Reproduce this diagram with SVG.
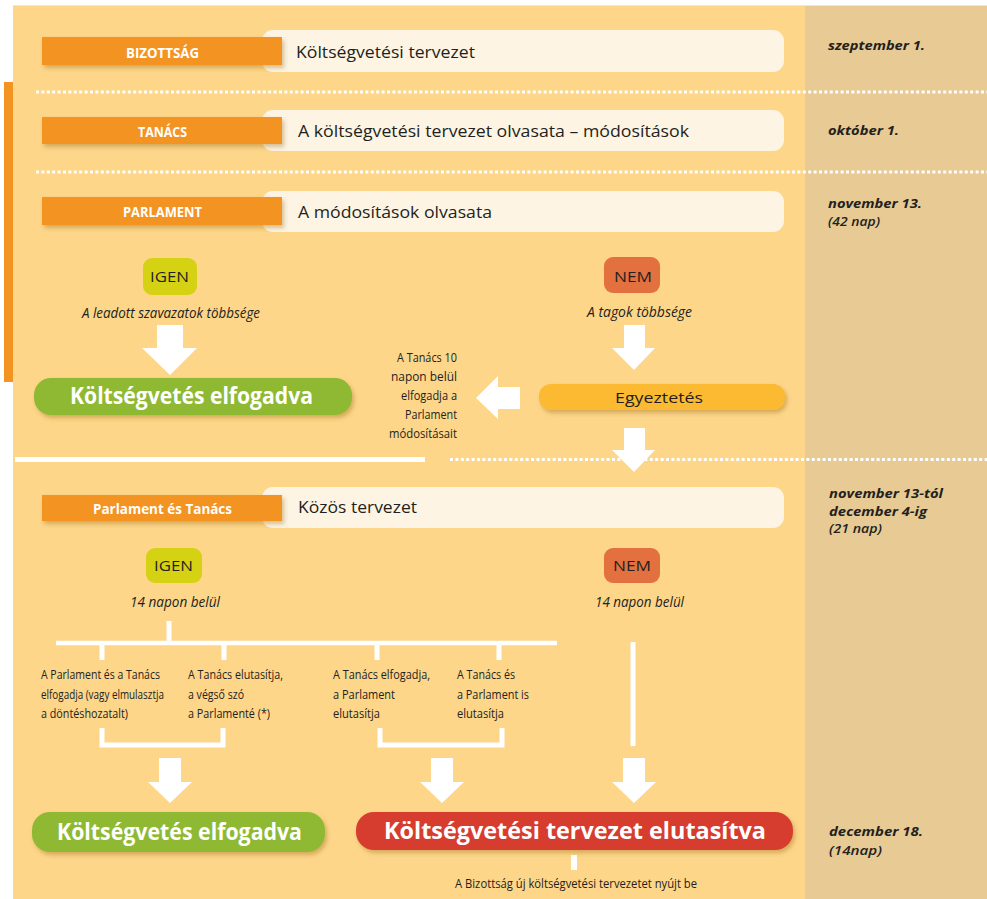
<svg xmlns="http://www.w3.org/2000/svg" width="987" height="899" viewBox="0 0 987 899">
<defs>
<style>
.lbl{font-family:"Open Sans","Noto Sans",sans-serif;font-weight:700;font-size:15px;fill:#fff}
.row{font-family:"Open Sans","Noto Sans",sans-serif;font-size:16.5px;fill:#231f20}
.date{font-family:"Open Sans","Noto Sans",sans-serif;font-weight:700;font-style:italic;font-size:12px;fill:#231f20}
.dn{font-family:"Open Sans","Noto Sans",sans-serif;font-weight:600;font-style:italic;font-size:12px;fill:#231f20}
.yn{font-family:"Open Sans","Noto Sans",sans-serif;font-size:15px;fill:#231f20}
.sub{font-family:"Open Sans","Noto Sans",sans-serif;font-style:italic;font-size:14px;fill:#231f20}
.big{font-family:"Open Sans","Noto Sans",sans-serif;font-weight:700;font-size:23px;fill:#fff}
.sm{font-family:"Open Sans","Noto Sans",sans-serif;font-size:13px;fill:#231f20}
.lab{fill:#f39321}
.cream{fill:#fdf4e3}
.dot{stroke:#fff;stroke-width:3;stroke-dasharray:3 2.4;fill:none}
.wl{stroke:#fff;fill:none}
.arr{fill:#fff}
</style>
<filter id="sh" x="-10%" y="-40%" width="125%" height="200%">
<feDropShadow dx="2" dy="3" stdDeviation="2" flood-color="#8a5a10" flood-opacity="0.35"/>
</filter>
</defs>
<rect x="0" y="0" width="987" height="899" fill="#ffffff"/>
<rect x="13" y="5" width="974" height="1" fill="#e6e6e6"/>
<rect x="13" y="6" width="792" height="893" fill="#fdd68a"/>
<rect x="805" y="6" width="182" height="893" fill="#e7ca94"/>
<rect x="4" y="82" width="9" height="300" fill="#f39321"/>

<g id="connectors">
<line class="dot" x1="36" y1="92" x2="987" y2="92"/>
<line class="dot" x1="36" y1="172" x2="987" y2="172"/>
<line class="wl" x1="15" y1="459.5" x2="425" y2="459.5" stroke-width="5"/>
<line class="dot" x1="450" y1="459.5" x2="987" y2="459.5"/>
<polygon class="arr" points="157,325 183,325 183,348 197,348 170,375 142,348 157,348"/>
<polygon class="arr" points="624,325 645,325 645,348 655,348 634,370 612,348 624,348"/>
<polygon class="arr" points="520,387 520,409 498,409 498,419 476,398 498,376 498,387"/>
<polygon class="arr" points="624,428 645,428 645,450 655,450 634,472 612,450 624,450"/>
<line class="wl" x1="169" y1="621" x2="169" y2="643" stroke-width="5"/>
<line class="wl" x1="56" y1="643" x2="557" y2="643" stroke-width="4.5"/>
<line class="wl" x1="102" y1="643" x2="102" y2="660" stroke-width="5"/>
<line class="wl" x1="224" y1="643" x2="224" y2="660" stroke-width="5"/>
<line class="wl" x1="377" y1="643" x2="377" y2="660" stroke-width="5"/>
<line class="wl" x1="499" y1="643" x2="499" y2="660" stroke-width="5"/>
<polyline class="wl" points="102,728 102,745 223,745 223,728" stroke-width="5"/>
<polyline class="wl" points="380,728 380,745 502,745 502,728" stroke-width="5"/>
<line class="wl" x1="633" y1="642" x2="633" y2="746" stroke-width="5"/>
<polygon class="arr" points="159,758 181,758 181,782 192,782 170,803 148,782 159,782"/>
<polygon class="arr" points="431,758 453,758 453,782 464,782 442,803 420,782 431,782"/>
<polygon class="arr" points="623,758 645,758 645,782 656,782 634,803 612,782 623,782"/>
<line class="wl" x1="574" y1="855" x2="574" y2="870" stroke-width="6"/>
</g>

<g id="row-bizottsag">
<rect class="cream" x="262" y="30" width="522" height="42" rx="11"/>
<rect class="lab" x="42" y="37" width="240" height="28" filter="url(#sh)"/>
<text class="lbl" x="126" y="58" textLength="73" lengthAdjust="spacingAndGlyphs">BIZOTTSÁG</text>
<text class="row" x="296" y="58" textLength="179" lengthAdjust="spacingAndGlyphs">Költségvetési tervezet</text>
</g>
<g id="row-tanacs">
<rect class="cream" x="262" y="110" width="522" height="41" rx="11"/>
<rect class="lab" x="42" y="117" width="240" height="27" filter="url(#sh)"/>
<text class="lbl" x="138" y="137" textLength="49" lengthAdjust="spacingAndGlyphs">TANÁCS</text>
<text class="row" x="298" y="137" textLength="391" lengthAdjust="spacingAndGlyphs">A költségvetési tervezet olvasata – módosítások</text>
</g>
<g id="row-parlament">
<rect class="cream" x="262" y="191" width="522" height="41" rx="11"/>
<rect class="lab" x="42" y="197" width="240" height="28" filter="url(#sh)"/>
<text class="lbl" x="123" y="217" textLength="79" lengthAdjust="spacingAndGlyphs">PARLAMENT</text>
<text class="row" x="298" y="218" textLength="194" lengthAdjust="spacingAndGlyphs">A módosítások olvasata</text>
</g>
<g id="row-kozos">
<rect class="cream" x="262" y="487" width="522" height="41" rx="11"/>
<rect class="lab" x="42" y="495" width="240" height="26" filter="url(#sh)"/>
<text class="lbl" x="93" y="514" textLength="139" lengthAdjust="spacingAndGlyphs">Parlament és Tanács</text>
<text class="row" x="298" y="513" textLength="119" lengthAdjust="spacingAndGlyphs">Közös tervezet</text>
</g>

<g id="dates">
<text class="date" x="828" y="50" textLength="97" lengthAdjust="spacingAndGlyphs">szeptember 1.</text>
<text class="date" x="828" y="135" textLength="71" lengthAdjust="spacingAndGlyphs">október 1.</text>
<text class="date" x="828" y="208" textLength="94" lengthAdjust="spacingAndGlyphs">november 13.</text>
<text class="dn" x="828" y="226" textLength="52" lengthAdjust="spacingAndGlyphs">(42 nap)</text>
<text class="date" x="829" y="498" textLength="114" lengthAdjust="spacingAndGlyphs">november 13-tól</text>
<text class="date" x="829" y="516" textLength="98" lengthAdjust="spacingAndGlyphs">december 4-ig</text>
<text class="dn" x="829" y="533" textLength="53" lengthAdjust="spacingAndGlyphs">(21 nap)</text>
<text class="date" x="829" y="836" textLength="94" lengthAdjust="spacingAndGlyphs">december 18.</text>
<text class="dn" x="829" y="855" textLength="53" lengthAdjust="spacingAndGlyphs">(14nap)</text>
</g>

<g id="igen1">
<rect x="143" y="258" width="54" height="37" rx="9" fill="#d5d214"/>
<text class="yn" x="150" y="282" textLength="39" lengthAdjust="spacingAndGlyphs">IGEN</text>
<text class="sub" x="82" y="318" textLength="178" lengthAdjust="spacingAndGlyphs">A leadott szavazatok többsége</text>
</g>
<g id="nem1">
<rect x="604" y="257" width="56" height="36" rx="9" fill="#e3703f"/>
<text class="yn" x="614" y="282" textLength="38" lengthAdjust="spacingAndGlyphs">NEM</text>
<text class="sub" x="587" y="317" textLength="105" lengthAdjust="spacingAndGlyphs">A tagok többsége</text>
</g>
<g id="elfogadva1">
<rect x="34" y="378" width="318" height="37" rx="17" fill="#8fb933" filter="url(#sh)"/>
<text class="big" x="70" y="404" textLength="243" lengthAdjust="spacingAndGlyphs">Költségvetés elfogadva</text>
</g>
<g id="egyeztetes">
<rect x="539" y="384" width="246" height="26" rx="12" fill="#fbba30" filter="url(#sh)"/>
<text class="yn" x="615" y="403" textLength="88" lengthAdjust="spacingAndGlyphs">Egyeztetés</text>
</g>
<g id="tanacs10">
<text class="sm" x="397" y="362" textLength="60" lengthAdjust="spacingAndGlyphs">A Tanács 10</text>
<text class="sm" x="391" y="381" textLength="66" lengthAdjust="spacingAndGlyphs">napon belül</text>
<text class="sm" x="401" y="400" textLength="56" lengthAdjust="spacingAndGlyphs">elfogadja a</text>
<text class="sm" x="405" y="419" textLength="52" lengthAdjust="spacingAndGlyphs">Parlament</text>
<text class="sm" x="389" y="438" textLength="68" lengthAdjust="spacingAndGlyphs">módosításait</text>
</g>

<g id="igen2">
<rect x="146" y="548" width="56" height="35" rx="9" fill="#d5d214"/>
<text class="yn" x="154" y="571" textLength="39" lengthAdjust="spacingAndGlyphs">IGEN</text>
<text class="sub" x="130" y="607" textLength="90" lengthAdjust="spacingAndGlyphs">14 napon belül</text>
</g>
<g id="nem2">
<rect x="604" y="548" width="56" height="35" rx="9" fill="#e3703f"/>
<text class="yn" x="613" y="571" textLength="38" lengthAdjust="spacingAndGlyphs">NEM</text>
<text class="sub" x="595" y="607" textLength="89" lengthAdjust="spacingAndGlyphs">14 napon belül</text>
</g>
<g id="opt1">
<text class="sm" x="41" y="679" textLength="119" lengthAdjust="spacingAndGlyphs">A Parlament és a Tanács</text>
<text class="sm" transform="translate(41,699) scale(0.76,1)" x="0" y="0">elfogadja (vagy elmulasztja</text>
<text class="sm" x="41" y="718" textLength="87" lengthAdjust="spacingAndGlyphs">a döntéshozatalt)</text>
</g>
<g id="opt2">
<text class="sm" x="188" y="679" textLength="95" lengthAdjust="spacingAndGlyphs">A Tanács elutasítja,</text>
<text class="sm" x="188" y="699" textLength="56" lengthAdjust="spacingAndGlyphs">a végső szó</text>
<text class="sm" x="188" y="718" textLength="82" lengthAdjust="spacingAndGlyphs">a Parlamenté (*)</text>
</g>
<g id="opt3">
<text class="sm" x="333" y="679" textLength="97" lengthAdjust="spacingAndGlyphs">A Tanács elfogadja,</text>
<text class="sm" x="333" y="699" textLength="62" lengthAdjust="spacingAndGlyphs">a Parlament</text>
<text class="sm" x="333" y="718" textLength="47" lengthAdjust="spacingAndGlyphs">elutasítja</text>
</g>
<g id="opt4">
<text class="sm" x="457" y="679" textLength="58" lengthAdjust="spacingAndGlyphs">A Tanács és</text>
<text class="sm" x="457" y="699" textLength="72" lengthAdjust="spacingAndGlyphs">a Parlament is</text>
<text class="sm" x="457" y="718" textLength="47" lengthAdjust="spacingAndGlyphs">elutasítja</text>
</g>
<g id="elfogadva2">
<rect x="32" y="812" width="293" height="40" rx="18" fill="#8fb933" filter="url(#sh)"/>
<text class="big" x="57" y="840" textLength="245" lengthAdjust="spacingAndGlyphs">Költségvetés elfogadva</text>
</g>
<g id="elutasitva">
<rect x="356" y="812" width="437" height="38" rx="18" fill="#d63c2e" filter="url(#sh)"/>
<text class="big" x="384" y="839" textLength="382" lengthAdjust="spacingAndGlyphs">Költségvetési tervezet elutasítva</text>
</g>
<g id="uj-tervezet">
<text class="sm" x="455" y="888" textLength="242" lengthAdjust="spacingAndGlyphs">A Bizottság új költségvetési tervezetet nyújt be</text>
</g>
</svg>
